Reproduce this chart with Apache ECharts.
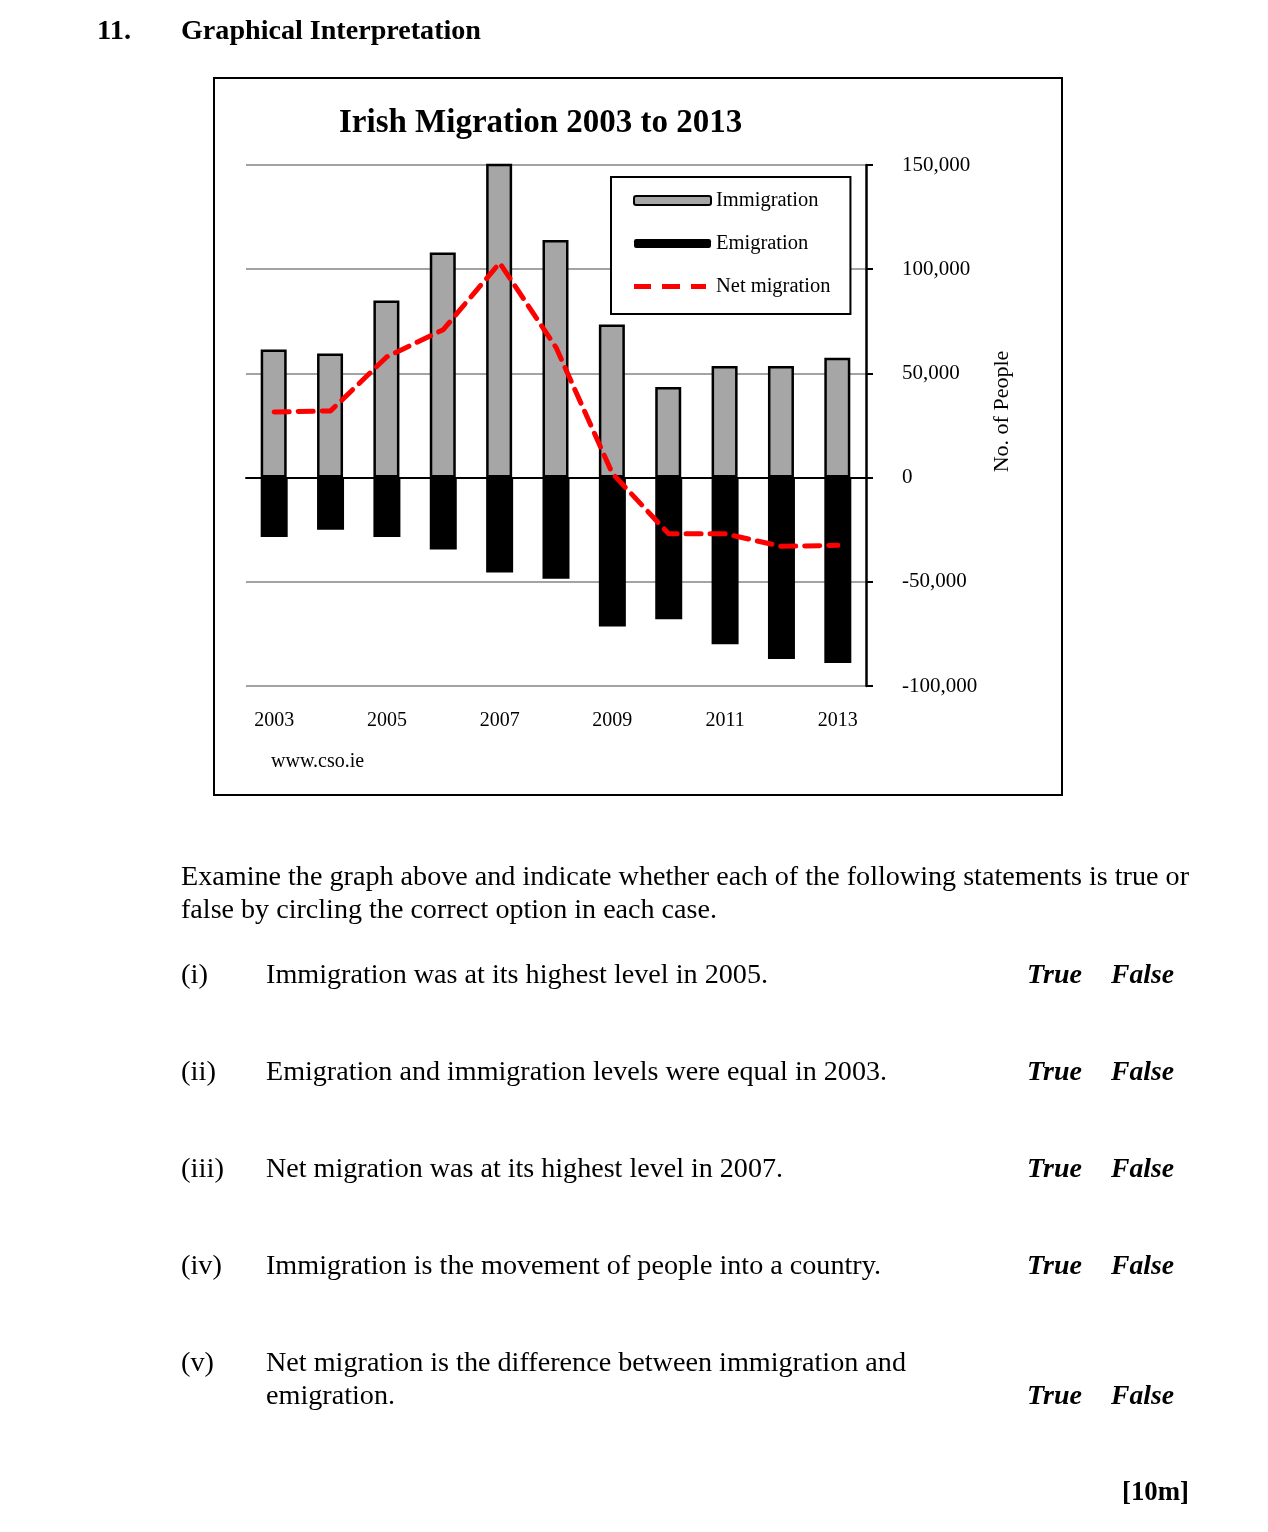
<!DOCTYPE html>
<html>
<head>
<meta charset="utf-8">
<script src="https://cdn.jsdelivr.net/npm/echarts@6/dist/echarts.min.js"></script>
<style>
  html, body { margin: 0; padding: 0; background: #fff; }
  body { width: 1268px; height: 1532px; position: relative; overflow: hidden; font-family: "Liberation Serif", "Times New Roman", serif; color: #000; }
  #chart { position: absolute; left: 0; top: 0; width: 1268px; height: 1532px; }
  .box { position: absolute; left: 213px; top: 77px; width: 846px; height: 715px; border: 2px solid #000; }
  .t { position: absolute; white-space: nowrap; transform-origin: 0 50%; line-height: 32px; height: 32px; }
  .q { font-size: 28px; }
  .b { font-weight: bold; }
  .tf { font-weight: bold; font-style: italic; font-size: 28px; }
</style>
</head>
<body>
<div class="box"></div>
<div id="chart"></div>

<div class="t b" style="left:97px;top:14px;font-size:27px;" data-w="34">11.</div>
<div class="t b" style="left:181px;top:14px;font-size:27px;" data-w="300">Graphical Interpretation</div>

<div class="t q" style="left:181px;top:860px;" data-w="1008">Examine the graph above and indicate whether each of the following statements is true or</div>
<div class="t q" style="left:181px;top:893px;" data-w="536">false by circling the correct option in each case.</div>

<div class="t q" style="left:181px;top:958px;" data-w="27">(i)</div>
<div class="t q" style="left:266px;top:958px;" data-w="502">Immigration was at its highest level in 2005.</div>
<div class="t tf" style="left:1027px;top:958px;" data-w="55">True</div>
<div class="t tf" style="left:1111px;top:958px;" data-w="63">False</div>

<div class="t q" style="left:181px;top:1055px;" data-w="35">(ii)</div>
<div class="t q" style="left:266px;top:1055px;" data-w="621">Emigration and immigration levels were equal in 2003.</div>
<div class="t tf" style="left:1027px;top:1055px;" data-w="55">True</div>
<div class="t tf" style="left:1111px;top:1055px;" data-w="63">False</div>

<div class="t q" style="left:181px;top:1152px;" data-w="43">(iii)</div>
<div class="t q" style="left:266px;top:1152px;" data-w="517">Net migration was at its highest level in 2007.</div>
<div class="t tf" style="left:1027px;top:1152px;" data-w="55">True</div>
<div class="t tf" style="left:1111px;top:1152px;" data-w="63">False</div>

<div class="t q" style="left:181px;top:1249px;" data-w="41">(iv)</div>
<div class="t q" style="left:266px;top:1249px;" data-w="615">Immigration is the movement of people into a country.</div>
<div class="t tf" style="left:1027px;top:1249px;" data-w="55">True</div>
<div class="t tf" style="left:1111px;top:1249px;" data-w="63">False</div>

<div class="t q" style="left:181px;top:1346px;" data-w="33">(v)</div>
<div class="t q" style="left:266px;top:1346px;" data-w="640">Net migration is the difference between immigration and</div>
<div class="t q" style="left:266px;top:1379px;" data-w="129">emigration.</div>
<div class="t tf" style="left:1027px;top:1379px;" data-w="55">True</div>
<div class="t tf" style="left:1111px;top:1379px;" data-w="63">False</div>

<div class="t b" style="left:1122px;top:1475px;font-size:28px;" data-w="67">[10m]</div>

<script>
// ---- data ----
var years = ['2003', '2004', '2005', '2006', '2007', '2008', '2009', '2010', '2011', '2012', '2013'];
var immigration = [61500, 59500, 85000, 108000, 152500, 114000, 73500, 43500, 53500, 53500, 57500];
var emigration = [-28500, -25000, -28500, -34500, -45500, -48500, -71500, -68000, -80000, -87000, -89000];
var netMigration = [31500, 32000, 58000, 71000, 103000, 62500, 2000, -27000, -27000, -33000, -32500];
var yTicks = [-100000, -50000, 0, 50000, 100000, 150000];

// fit text widths to reference
document.querySelectorAll('[data-w]').forEach(function (el) {
  var target = parseFloat(el.getAttribute('data-w'));
  var w = el.getBoundingClientRect().width;
  if (w > 0) el.style.transform = 'scaleX(' + (target / w) + ')';
});

var chart = echarts.init(document.getElementById('chart'), null, { renderer: 'canvas' });
var serif = '"Liberation Serif", "Times New Roman", serif';
var dashIcon = 'path://M0,2h17v5h-17zM28,2h18v5h-18zM57,2h15v5h-15zM0,0h0.01v0.01h-0.01zM76.99,8.99h0.01v0.01h-0.01z';

chart.setOption({
  animation: false,
  backgroundColor: 'transparent',
  textStyle: { fontFamily: serif, color: '#000' },
  title: {
    text: 'Irish Migration 2003 to 2013',
    left: 334, top: 102,
    textStyle: { fontFamily: serif, fontSize: 33, fontWeight: 'bold', color: '#000' }
  },
  graphic: [
    { type: 'text', left: 271, top: 752, style: { text: 'www.cso.ie', font: '20px ' + serif, fill: '#000' } }
  ],
  legend: {
    orient: 'vertical',
    left: 611, top: 177,
    padding: [13, 20, 17, 22],
    itemGap: 22,
    itemWidth: 77, itemHeight: 9,
    borderColor: '#000', borderWidth: 2,
    backgroundColor: '#fff',
    textStyle: { fontFamily: serif, fontSize: 20.5, color: '#000', lineHeight: 20 },
    data: ['Immigration', 'Emigration', { name: 'Net migration', icon: dashIcon, itemStyle: { color: '#ff0000', borderWidth: 0 } }]
  },
  grid: { left: 246, top: 165, width: 620, height: 521, containLabel: false },
  xAxis: [
    {
      type: 'category', data: years,
      axisLine: { show: false, onZero: false },
      axisTick: { show: false },
      axisLabel: { interval: 1, margin: 25, fontSize: 20, fontFamily: serif, color: '#000' },
      splitLine: { show: false }
    },
    {
      type: 'category', data: years,
      axisLine: { show: true, onZero: true, lineStyle: { color: '#000', width: 2 } },
      axisTick: { show: false },
      axisLabel: { show: false },
      splitLine: { show: false }
    }
  ],
  yAxis: {
    type: 'value', position: 'right',
    min: yTicks[0], max: yTicks[yTicks.length - 1], interval: 50000,
    axisLine: { show: true, lineStyle: { color: '#000', width: 2.5 } },
    axisTick: { show: true, inside: false, length: 7, lineStyle: { color: '#000', width: 2 } },
    axisLabel: {
      margin: 36, fontSize: 21, fontFamily: serif, color: '#000', padding: [4, 0, 0, 0],
      formatter: function (v) { return v.toLocaleString('en-US'); }
    },
    splitLine: { show: true, lineStyle: { color: '#a3a3a3', width: 2 } },
    name: 'No. of People',
    nameLocation: 'middle', nameRotate: 90, nameGap: 125,
    nameTextStyle: { fontFamily: serif, fontSize: 22, color: '#000', padding: [0, 0, 0, 28] }
  },
  series: [
    {
      name: 'Immigration', type: 'bar', data: immigration,
      barWidth: 26, barGap: '-100%',
      itemStyle: { color: '#a6a6a6', borderColor: '#000', borderWidth: 2.5 }
    },
    {
      name: 'Emigration', type: 'bar', data: emigration,
      barWidth: 27,
      itemStyle: { color: '#000' }
    },
    {
      name: 'Net migration', type: 'line', data: netMigration,
      symbol: 'none', z: 5,
      lineStyle: { color: '#ff0000', width: 5, type: [15, 9], cap: 'round' },
      itemStyle: { color: '#ff0000' }
    }
  ]
});
</script>
</body>
</html>
